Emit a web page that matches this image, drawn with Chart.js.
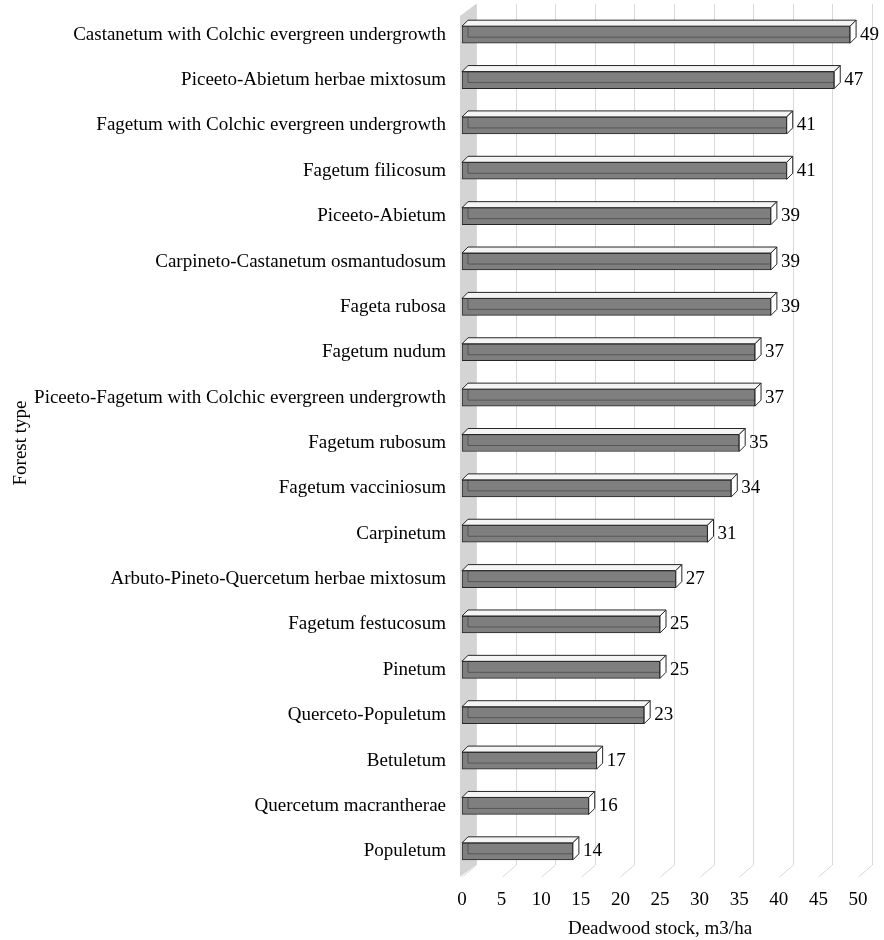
<!DOCTYPE html>
<html>
<head>
<meta charset="utf-8">
<script src="https://cdn.jsdelivr.net/npm/chart.js@4.4.1/dist/chart.umd.min.js"></script>
<style>
  html, body { margin: 0; padding: 0; background: #fff; }
  #wrap { width: 884px; height: 940px; }
</style>
</head>
<body>
<div id="wrap"><canvas id="chart" width="884" height="940"></canvas></div>
<script>
// Dados do gráfico
const forestTypes = [
  'Castanetum with Colchic evergreen undergrowth',
  'Piceeto-Abietum herbae mixtosum',
  'Fagetum with Colchic evergreen undergrowth',
  'Fagetum filicosum',
  'Piceeto-Abietum',
  'Carpineto-Castanetum osmantudosum',
  'Fageta rubosa',
  'Fagetum nudum',
  'Piceeto-Fagetum with Colchic evergreen undergrowth',
  'Fagetum rubosum',
  'Fagetum vacciniosum',
  'Carpinetum',
  'Arbuto-Pineto-Quercetum herbae mixtosum',
  'Fagetum festucosum',
  'Pinetum',
  'Querceto-Populetum',
  'Betuletum',
  'Quercetum macrantherae',
  'Populetum'
];
const deadwoodStock = [49, 47, 41, 41, 39, 39, 39, 37, 37, 35, 34, 31, 27, 25, 25, 23, 17, 16, 14];
const xTicks = [0, 5, 10, 15, 20, 25, 30, 35, 40, 45, 50];

const serif = '"Liberation Serif", "DejaVu Serif", serif';
const BACK_DX = 14, BACK_DY = -12;   // profundidade do fundo 3D
const BAR_D = 6;                       // profundidade das barras

// Parede lateral e linhas de grade em perspectiva
const backdrop = {
  id: 'backdrop',
  beforeDatasetsDraw(chart) {
    const { ctx, chartArea, scales } = chart;
    const x = scales.x;
    const top = chartArea.top + 4, bottom = chartArea.bottom + 3;
    ctx.save();
    ctx.strokeStyle = '#d9d9d9';
    ctx.lineWidth = 1;
    xTicks.forEach(v => {
      const px = Math.round(x.getPixelForValue(v)) + 0.5;
      ctx.beginPath();
      ctx.moveTo(px + BACK_DX, top + BACK_DY);
      ctx.lineTo(px + BACK_DX, bottom + BACK_DY);
      ctx.lineTo(px, bottom);
      ctx.stroke();
    });
    const x0 = x.getPixelForValue(0) - 2;
    ctx.fillStyle = '#d4d4d4';
    ctx.beginPath();
    ctx.moveTo(x0, top);
    ctx.lineTo(x0 + BACK_DX + 2, top + BACK_DY);
    ctx.lineTo(x0 + BACK_DX + 2, bottom + BACK_DY);
    ctx.lineTo(x0, bottom);
    ctx.closePath();
    ctx.fill();
    ctx.restore();
  }
};

// Faces superior e lateral das barras + rótulos de valor
const bars3d = {
  id: 'bars3d',
  afterDatasetsDraw(chart) {
    const { ctx } = chart;
    const meta = chart.getDatasetMeta(0);
    ctx.save();
    ctx.lineWidth = 1;
    ctx.strokeStyle = '#262626';
    meta.data.forEach((bar, i) => {
      const left = bar.base, right = bar.x;
      const t = bar.y - bar.height / 2, b = bar.y + bar.height / 2;
      const d = BAR_D;
      // arestas de trás vistas através da face
      ctx.globalAlpha = 0.45;
      ctx.beginPath();
      ctx.moveTo(left + d, t - d);
      ctx.lineTo(left + d, b - d);
      ctx.lineTo(right, b - d);
      ctx.stroke();
      ctx.globalAlpha = 1;
      // topo
      ctx.fillStyle = '#f4f4f4';
      ctx.beginPath();
      ctx.moveTo(left, t);
      ctx.lineTo(left + d, t - d);
      ctx.lineTo(right + d, t - d);
      ctx.lineTo(right, t);
      ctx.closePath();
      ctx.fill();
      ctx.stroke();
      // lateral direita
      ctx.fillStyle = '#ffffff';
      ctx.beginPath();
      ctx.moveTo(right, t);
      ctx.lineTo(right + d, t - d);
      ctx.lineTo(right + d, b - d);
      ctx.lineTo(right, b);
      ctx.closePath();
      ctx.fill();
      ctx.stroke();
      // rótulo
      ctx.fillStyle = '#000';
      ctx.font = '19px ' + serif;
      ctx.textAlign = 'left';
      ctx.textBaseline = 'middle';
      ctx.fillText(String(deadwoodStock[i]), right + d + 4, bar.y);
    });
    ctx.restore();
  }
};

const ctx = document.getElementById('chart').getContext('2d');
const chart = new Chart(ctx, {
  type: 'bar',
  data: {
    labels: forestTypes,
    datasets: [{
      data: deadwoodStock,
      backgroundColor: '#7f7f7f',
      borderColor: '#262626',
      borderWidth: 1,
      borderSkipped: false,
      barThickness: 17
    }]
  },
  options: {
    indexAxis: 'y',
    responsive: false,
    animation: false,
    layout: { padding: { top: 12, right: 26, bottom: 0, left: 10 } },
    plugins: {
      legend: { display: false },
      tooltip: { enabled: false }
    },
    scales: {
      x: {
        min: 0,
        max: 50,
        grid: { display: false, drawTicks: false },
        border: { display: false },
        afterBuildTicks(scale) {
          scale.ticks = xTicks.map(v => ({ value: v }));
        },
        afterFit(scale) { scale.height = 66; },
        ticks: {
          color: '#000',
          font: { family: serif, size: 19 },
          padding: 15
        },
        title: {
          display: true,
          text: 'Deadwood stock, m3/ha',
          color: '#000',
          font: { family: serif, size: 19 },
          padding: { top: 8, bottom: 0 }
        }
      },
      y: {
        grid: { display: false, drawTicks: false },
        border: { display: false },
        afterFit(scale) {
          scale.width = 452;
          scale.paddingTop = 0;
          scale.paddingBottom = 0;
        },
        ticks: {
          color: '#000',
          font: { family: serif, size: 19 },
          padding: 16,
          autoSkip: false
        },
        title: {
          display: true,
          text: 'Forest type',
          color: '#000',
          font: { family: serif, size: 19 },
          padding: { top: 0, bottom: 0 }
        }
      }
    }
  },
  plugins: [backdrop, bars3d]
});
</script>
</body>
</html>
